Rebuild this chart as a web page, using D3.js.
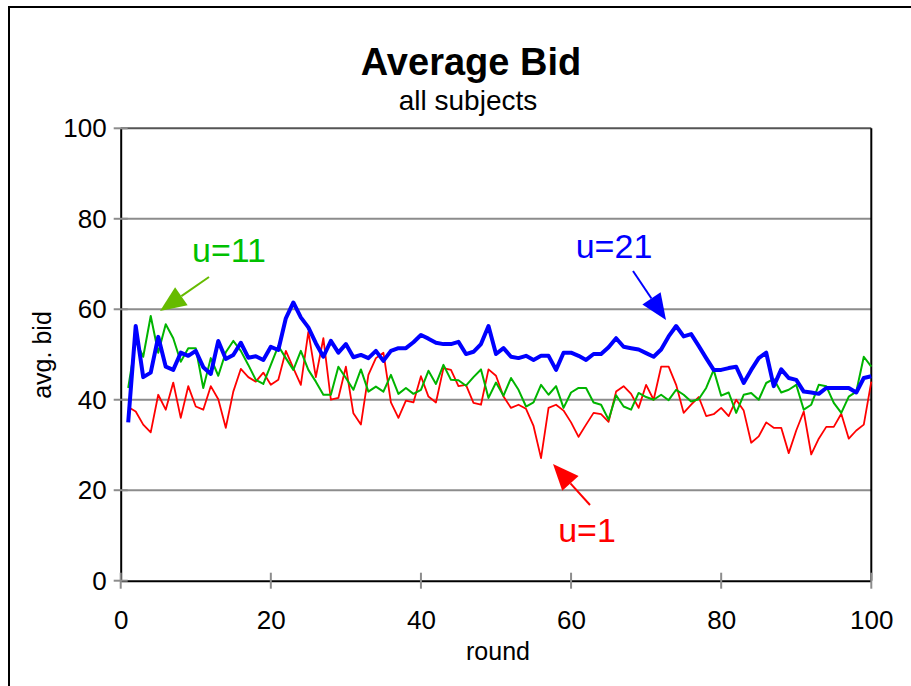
<!DOCTYPE html>
<html>
<head>
<meta charset="utf-8">
<script src="https://cdn.jsdelivr.net/npm/d3@7"></script>
<style>
  html, body { margin: 0; padding: 0; background: #fff; }
  svg { display: block; font-family: "Liberation Sans", Arial, sans-serif; }
</style>
</head>
<body>
<svg id="chart" width="911" height="686"></svg>
<script>
// Average bid per round, by treatment (u = 1, 11, 21)
const rounds = d3.range(1, 101);

const bidU1 = [
  38.4, 37.4, 34.5, 32.8, 41.1, 37.8, 43.8, 36.0, 43.0, 38.5,
  37.8, 43.0, 40.1, 33.8, 41.8, 46.8, 45.0, 44.0, 46.0, 43.3,
  44.4, 50.8, 47.0, 43.3, 55.0, 45.0, 53.6, 40.0, 40.4, 47.3,
  37.0, 34.5, 45.5, 49.2, 50.4, 39.4, 36.0, 39.8, 39.4, 45.2,
  40.7, 39.4, 47.0, 46.6, 43.0, 43.3, 39.3, 38.9, 46.7, 45.3,
  40.7, 38.2, 38.9, 38.0, 34.2, 27.1, 38.2, 38.9, 37.6, 35.0,
  31.8, 34.5, 37.1, 36.8, 35.1, 41.8, 43.0, 41.3, 38.2, 43.3,
  40.0, 47.3, 47.3, 43.3, 37.1, 38.9, 40.6, 36.4, 36.8, 38.2,
  36.4, 40.0, 37.6, 30.5, 31.9, 35.0, 33.8, 33.8, 28.2, 33.2,
  37.4, 27.9, 31.4, 34.0, 34.0, 36.9, 31.4, 33.2, 34.5, 44.0
];

const bidU11 = [
  42.6, 53.0, 49.5, 58.5, 50.4, 56.7, 53.6, 48.4, 51.4, 51.4,
  42.6, 49.2, 45.3, 50.5, 53.0, 50.8, 47.7, 44.4, 43.5, 47.7,
  51.9, 49.2, 46.6, 50.8, 46.6, 44.0, 41.1, 41.1, 47.3, 44.8,
  42.2, 46.7, 41.8, 42.9, 41.8, 45.5, 41.3, 42.6, 41.3, 42.2,
  46.4, 43.5, 47.7, 44.4, 44.3, 43.1, 45.0, 46.7, 40.4, 43.8,
  40.9, 44.8, 42.2, 38.5, 39.4, 43.3, 41.1, 43.0, 38.2, 41.6,
  42.6, 42.6, 39.4, 38.9, 35.6, 41.0, 38.5, 37.8, 41.5, 40.6,
  40.0, 41.1, 39.9, 42.2, 41.1, 39.6, 40.1, 42.6, 46.6, 40.9,
  41.6, 37.1, 41.1, 41.5, 40.0, 43.7, 44.6, 41.6, 42.2, 43.3,
  37.8, 38.9, 43.3, 43.0, 39.3, 37.1, 40.7, 41.8, 49.5, 47.3
];

const bidU21 = [
  35.0, 56.3, 45.0, 46.0, 53.9, 47.3, 46.6, 50.4, 49.7, 50.8,
  47.2, 45.7, 53.0, 49.0, 49.9, 52.6, 49.3, 49.6, 48.8, 51.7,
  51.0, 58.0, 61.5, 58.2, 56.0, 52.5, 49.5, 53.0, 50.4, 52.3,
  49.4, 49.9, 49.2, 50.8, 48.6, 50.8, 51.4, 51.4, 52.7, 54.3,
  53.5, 52.6, 52.3, 52.3, 52.8, 50.1, 50.6, 52.3, 56.3, 50.1,
  51.4, 49.5, 49.2, 49.7, 48.8, 49.7, 49.7, 46.6, 50.4, 50.4,
  49.7, 48.8, 50.1, 50.1, 51.6, 53.6, 51.7, 51.4, 51.1, 50.3,
  49.5, 51.1, 54.0, 56.3, 54.0, 54.5, 51.9, 49.2, 46.6, 46.6,
  47.0, 47.3, 43.7, 46.6, 49.2, 50.4, 43.0, 46.7, 44.8, 44.4,
  41.8, 41.6, 41.3, 42.6, 42.6, 42.6, 42.6, 41.6, 44.8, 45.2
];

const xTicks = [0, 20, 40, 60, 80, 100];
const yTicks = [0, 20, 40, 60, 80, 100];

const svg = d3.select("#chart");

// outer chart frame
svg.append("path")
  .attr("d", "M9,700 L9,7 L920,7")
  .attr("fill", "none").attr("stroke", "#000").attr("stroke-width", 2);

const x = d3.scaleLinear().domain([0, 100]).range([120.7, 871.3]);
const y = d3.scaleLinear().domain([0, 100]).range([580.7, 128.3]);

// horizontal gridlines
svg.append("g")
  .selectAll("line")
  .data(yTicks.filter(v => v > 0 && v < 100))
  .join("line")
  .attr("x1", x(0)).attr("x2", x(100))
  .attr("y1", d => y(d)).attr("y2", d => y(d))
  .attr("stroke", "#8c8c8c").attr("stroke-width", 2);

// plot border: top (gray) and right (black)
svg.append("line")
  .attr("x1", x(0)).attr("x2", x(100)).attr("y1", y(100)).attr("y2", y(100))
  .attr("stroke", "#555").attr("stroke-width", 2);
svg.append("line")
  .attr("x1", x(100)).attr("x2", x(100)).attr("y1", y(100)).attr("y2", y(0))
  .attr("stroke", "#000").attr("stroke-width", 2);

// axes
const xAxis = d3.axisBottom(x).tickValues(xTicks).tickSize(0).tickPadding(30);
const yAxis = d3.axisLeft(y).tickValues(yTicks).tickSize(0).tickPadding(14);

const gx = svg.append("g").attr("transform", `translate(0,${y(0)})`).call(xAxis);
const gy = svg.append("g").attr("transform", `translate(${x(0)},0)`).call(yAxis);
[gx, gy].forEach(g => {
  g.select(".domain").attr("stroke", "#000").attr("stroke-width", 2);
  g.selectAll("text").attr("font-size", 26).attr("fill", "#000")
    .attr("font-family", "'Liberation Sans', Arial, sans-serif");
});

// tick marks crossing the axes
svg.append("g").selectAll("line").data(xTicks).join("line")
  .attr("x1", d => x(d)).attr("x2", d => x(d))
  .attr("y1", y(0) - 8).attr("y2", y(0) + 8)
  .attr("stroke", "#8c8c8c").attr("stroke-width", 2);
svg.append("g").selectAll("line").data(yTicks).join("line")
  .attr("x1", x(0) - 7).attr("x2", x(0) + 7)
  .attr("y1", d => y(d)).attr("y2", d => y(d))
  .attr("stroke", "#8c8c8c").attr("stroke-width", 2);

// series
const line = d3.line().x((d, i) => x(rounds[i])).y(d => y(d));
const series = [
  { values: bidU1,  color: "#ff0000", width: 1.8 },
  { values: bidU11, color: "#00b400", width: 2 },
  { values: bidU21, color: "#0000ff", width: 4 }
];
svg.append("g").selectAll("path").data(series).join("path")
  .attr("d", d => line(d.values))
  .attr("fill", "none")
  .attr("stroke", d => d.color)
  .attr("stroke-width", d => d.width)
  .attr("stroke-linejoin", "round");

// titles
svg.append("text").attr("x", 471).attr("y", 75)
  .attr("text-anchor", "middle").attr("font-size", 38).attr("font-weight", "bold")
  .text("Average Bid");
svg.append("text").attr("x", 468).attr("y", 110)
  .attr("text-anchor", "middle").attr("font-size", 28)
  .text("all subjects");

// axis titles
svg.append("text").attr("x", 498).attr("y", 660)
  .attr("text-anchor", "middle").attr("font-size", 25)
  .text("round");
svg.append("text")
  .attr("transform", "translate(51,355) rotate(-90)")
  .attr("text-anchor", "middle").attr("font-size", 25)
  .text("avg. bid");

// annotation arrows
const arrows = [
  { from: [209, 277], to: [160, 311], color: "#66bb00" },
  { from: [633, 271], to: [666, 320], color: "#0000ff" },
  { from: [590, 505], to: [553, 464], color: "#ff0000" }
];
const ag = svg.append("g");
arrows.forEach(a => {
  const dx = a.to[0] - a.from[0], dy = a.to[1] - a.from[1];
  const len = Math.hypot(dx, dy), ux = dx / len, uy = dy / len;
  const headLen = 26, headW = 11;
  const bx = a.to[0] - ux * headLen, by = a.to[1] - uy * headLen;
  ag.append("line")
    .attr("x1", a.from[0]).attr("y1", a.from[1]).attr("x2", bx).attr("y2", by)
    .attr("stroke", a.color).attr("stroke-width", 2);
  ag.append("path")
    .attr("d", `M${a.to[0]},${a.to[1]} L${bx - uy * headW},${by + ux * headW} L${bx + uy * headW},${by - ux * headW} Z`)
    .attr("fill", a.color);
});

// series labels
const labels = [
  { text: "u=11", x: 229, y: 262, color: "#00c000" },
  { text: "u=21", x: 614, y: 258, color: "#0000ff" },
  { text: "u=1",  x: 587, y: 542, color: "#ff0000" }
];
svg.append("g").selectAll("text").data(labels).join("text")
  .attr("x", d => d.x).attr("y", d => d.y)
  .attr("text-anchor", "middle").attr("font-size", 34)
  .attr("fill", d => d.color)
  .text(d => d.text);
</script>
</body>
</html>
